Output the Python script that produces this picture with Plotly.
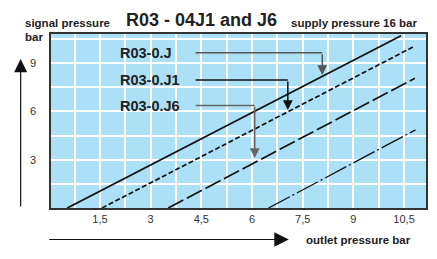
import plotly.graph_objects as go

# Characteristic lines (outlet pressure bar, signal pressure bar)
line_names = ["R03-0.J", "R03-0.J1", "R03-0.J6", "R03-0.J?"]
line_x = [[0.53, 10.41], [1.56, 10.82], [3.52, 10.82], [6.49, 10.84]]
line_y = [[0.0, 10.69], [0.0, 10.05], [0.0, 8.05], [0.0, 4.85]]
line_dash = ["solid", "5px,2.5px", "17px,4px", "24px,3px,2px,3px"]
line_width = [1.8, 1.7, 1.7, 1.3]

# Labels with elbow arrows
label_text = ["R03-0.J", "R03-0.J1", "R03-0.J6"]
label_x = [2.04, 2.04, 2.04]
label_y = [9.63, 7.95, 6.36]
elbow_start_x = [4.33, 4.33, 4.33]
elbow_x = [8.08, 7.06, 6.08]
tip_y = [8.26, 6.09, 3.10]
arrow_color = ["#555555", "#111111", "#666666"]

x_tickvals = [1.5, 3, 4.5, 6, 7.5, 9, 10.5]
x_ticktext = ["1,5", "3", "4,5", "6", "7,5", "9", "10,5"]
y_tickvals = [3, 6, 9]

FONT = "Liberation Sans, Arial, Helvetica, sans-serif"
W, H = 437, 259
L, R, T, B = 51, 9, 34, 51
pw, ph = W - L - R, H - T - B


def px2paper(px, py):
    return (px - L) / pw, (H - B - py) / ph


fig = go.Figure()
for i in range(len(line_names)):
    fig.add_trace(go.Scatter(x=line_x[i], y=line_y[i], mode="lines",
                             line=dict(color="#111111", width=line_width[i], dash=line_dash[i]),
                             showlegend=False, hoverinfo="skip"))

shapes = []
annotations = []
for i in range(len(label_text)):
    annotations.append(dict(x=label_x[i], y=label_y[i], xref="x", yref="y", text="<b>" + label_text[i] + "</b>",
                            showarrow=False, xanchor="left", yanchor="middle",
                            font=dict(family=FONT, size=14.5, color="#222222")))
    shapes.append(dict(type="line", xref="x", yref="y", x0=elbow_start_x[i], x1=elbow_x[i],
                       y0=label_y[i], y1=label_y[i], line=dict(color=arrow_color[i], width=1.5)))
    annotations.append(dict(x=elbow_x[i], y=tip_y[i], xref="x", yref="y", ax=elbow_x[i], ay=label_y[i],
                            axref="x", ayref="y", showarrow=True, arrowhead=2, arrowsize=1.3, arrowwidth=1.5,
                            arrowcolor=arrow_color[i], text=""))

title_items = [
    ("<b>signal pressure</b>", 23, 23, 11.5),
    ("<b>R03 - 04J1 and J6</b>", 124, 20, 18),
    ("<b>supply pressure 16 bar</b>", 290, 23, 11.5),
    ("<b>bar</b>", 23, 37, 11.5),
    ("<b>outlet pressure bar</b>", 305, 240, 11.5),
]
for t, px, py, sz in title_items:
    xp, yp = px2paper(px, py)
    annotations.append(dict(x=xp, y=yp, xref="paper", yref="paper", text=t, showarrow=False,
                            xanchor="left", yanchor="middle", font=dict(family=FONT, size=sz, color="#222222")))

# axis direction arrows
ax1, ay1 = px2paper(20.5, 59)
annotations.append(dict(x=ax1, y=ay1, ax=0, ay=149, xref="paper", yref="paper", axref="pixel", ayref="pixel",
                        showarrow=True, arrowhead=2, arrowsize=2.2, arrowwidth=1.2, arrowcolor="#111111", text=""))
bx1, by1 = px2paper(290, 239.5)
annotations.append(dict(x=bx1, y=by1, ax=-241, ay=0, xref="paper", yref="paper", axref="pixel", ayref="pixel",
                        showarrow=True, arrowhead=2, arrowsize=2.4, arrowwidth=1.2, arrowcolor="#111111", text=""))

fig.update_layout(
    width=W, height=H,
    margin=dict(l=L, r=R, t=T, b=B),
    paper_bgcolor="white",
    plot_bgcolor="#abe0f7",
    shapes=shapes,
    annotations=annotations,
    font=dict(family=FONT, size=11, color="#333333"),
    xaxis=dict(range=[0.05, 11.15], tickvals=x_tickvals, ticktext=x_ticktext, showgrid=True,
               gridcolor="white", gridwidth=1.6, zeroline=False, showline=True, linecolor="#333333",
               linewidth=1.5, mirror=True, ticks="", tickfont=dict(size=11, color="#333333"),
               minor=dict(dtick=0.75, tick0=0, showgrid=True, gridcolor="white", gridwidth=1.6)),
    yaxis=dict(range=[0, 10.8], tickvals=y_tickvals, showgrid=True, gridcolor="white", gridwidth=1.6,
               zeroline=False, showline=True, linecolor="#333333", linewidth=1.5, mirror=True, ticks="",
               ticklabelstandoff=11, tickfont=dict(size=11, color="#333333"),
               minor=dict(dtick=1.5, tick0=0, showgrid=True, gridcolor="white", gridwidth=1.6)),
)

fig.write_html("out.html", config={"displayModeBar": False},
               post_script="document.body.style.margin='0';document.body.style.overflow='hidden';")
